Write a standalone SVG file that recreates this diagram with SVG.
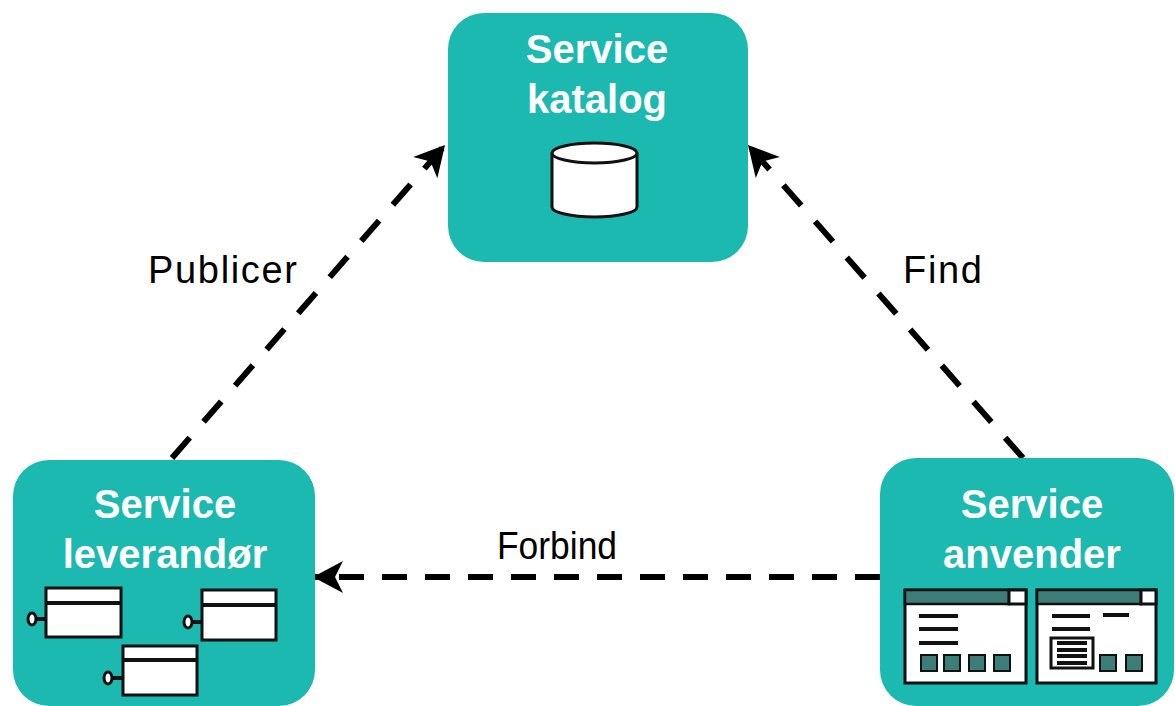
<svg xmlns="http://www.w3.org/2000/svg" width="1175" height="706" viewBox="0 0 1175 706">
<style>
.node{fill:#1cb9b0;}
.title{font-family:"Liberation Sans",Arial,sans-serif;font-weight:bold;font-size:40px;fill:#ffffff;text-anchor:middle;}
.lbl{font-family:"Liberation Sans",Arial,sans-serif;font-size:38px;fill:#000000;}
.conn{fill:none;stroke:#000000;stroke-width:6;}
.box{fill:#ffffff;stroke:#111111;stroke-width:3;}
.bar{fill:#3d7d78;stroke:#111111;stroke-width:2.5;}
.ln{stroke:#111111;stroke-width:4;}
.sq{fill:#3d7d78;stroke:#111111;stroke-width:2;}
</style>
<defs>
<marker id="ah" markerUnits="userSpaceOnUse" viewBox="-32 -17 34 34" refX="0" refY="0" markerWidth="34" markerHeight="34" orient="auto">
<path d="M0,0 L-30,-16 L-22,0 L-30,16 Z" fill="#000000"/>
</marker>
</defs>
<rect width="1175" height="706" fill="#ffffff"/>
<g id="connectors">
<line class="conn" x1="172" y1="458" x2="445" y2="145" stroke-dasharray="27 21" marker-end="url(#ah)"/>
<line class="conn" x1="1023" y1="458" x2="748" y2="145" stroke-dasharray="27 21" marker-end="url(#ah)"/>
<line class="conn" x1="880" y1="577" x2="313" y2="577" stroke-dasharray="25 18" marker-end="url(#ah)"/>
<text class="lbl" x="148" y="283" textLength="149" lengthAdjust="spacing">Publicer</text>
<text class="lbl" x="903" y="283" textLength="79" lengthAdjust="spacing">Find</text>
<text class="lbl" x="497" y="559" textLength="120" lengthAdjust="spacingAndGlyphs">Forbind</text>
</g>
<g id="katalog">
<rect class="node" x="448" y="13" width="300" height="249" rx="36"/>
<text class="title" x="597" y="63">Service</text>
<text class="title" x="597" y="113">katalog</text>
<path class="box" d="M552,153 L552,207 A42.5,10 0 0 0 637,207 L637,153"/>
<ellipse class="box" cx="594.5" cy="153" rx="42.5" ry="10"/>
</g>
<g id="leverandor">
<rect class="node" x="13" y="460" width="302" height="246" rx="36"/>
<text class="title" x="165" y="518">Service</text>
<text class="title" x="165" y="568">leverandør</text>
<line class="ln" x1="36" y1="619" x2="46" y2="619" stroke-width="3"/>
<ellipse class="box" cx="32" cy="619" rx="4" ry="6"/>
<rect class="box" x="46" y="588" width="75" height="49"/>
<line class="ln" x1="46" y1="603" x2="121" y2="603" stroke-width="3"/>
<line class="ln" x1="192" y1="622" x2="202" y2="622" stroke-width="3"/>
<ellipse class="box" cx="188" cy="622" rx="4" ry="6"/>
<rect class="box" x="202" y="590" width="74" height="50"/>
<line class="ln" x1="202" y1="605" x2="276" y2="605" stroke-width="3"/>
<line class="ln" x1="112" y1="678" x2="123" y2="678" stroke-width="3"/>
<ellipse class="box" cx="108" cy="678" rx="4" ry="6"/>
<rect class="box" x="123" y="646" width="74" height="49"/>
<line class="ln" x1="123" y1="660" x2="197" y2="660" stroke-width="3"/>
</g>
<g id="anvender">
<rect class="node" x="880" y="458" width="294" height="248" rx="36"/>
<text class="title" x="1032" y="518">Service</text>
<text class="title" x="1032" y="568">anvender</text>
<rect class="box" x="905" y="590" width="121" height="93" stroke-width="2.5"/>
<rect class="bar" x="905" y="590" width="104" height="14"/>
<rect class="box" x="1009" y="590" width="17" height="14" stroke-width="2.5"/>
<line class="ln" x1="919" y1="616" x2="958" y2="616"/>
<line class="ln" x1="919" y1="629" x2="958" y2="629"/>
<line class="ln" x1="919" y1="643" x2="958" y2="643"/>
<rect class="sq" x="921" y="655" width="16" height="16"/>
<rect class="sq" x="944" y="655" width="16" height="16"/>
<rect class="sq" x="969" y="655" width="16" height="16"/>
<rect class="sq" x="994" y="655" width="16" height="16"/>
<rect class="box" x="1037" y="590" width="119" height="93" stroke-width="2.5"/>
<rect class="bar" x="1037" y="590" width="104" height="14"/>
<rect class="box" x="1141" y="590" width="15" height="14" stroke-width="2.5"/>
<line class="ln" x1="1052" y1="616" x2="1090" y2="616"/>
<line class="ln" x1="1103" y1="615" x2="1129" y2="615"/>
<line class="ln" x1="1052" y1="629" x2="1090" y2="629"/>
<rect class="box" x="1051" y="638" width="42" height="30" stroke-width="2"/>
<line class="ln" x1="1057" y1="643" x2="1087" y2="643" stroke-width="2.5"/>
<line class="ln" x1="1057" y1="650" x2="1087" y2="650" stroke-width="2.5"/>
<line class="ln" x1="1057" y1="656" x2="1087" y2="656" stroke-width="2.5"/>
<line class="ln" x1="1057" y1="663" x2="1087" y2="663" stroke-width="2.5"/>
<rect class="sq" x="1100" y="655" width="16" height="16"/>
<rect class="sq" x="1126" y="655" width="16" height="16"/>
</g>
</svg>
